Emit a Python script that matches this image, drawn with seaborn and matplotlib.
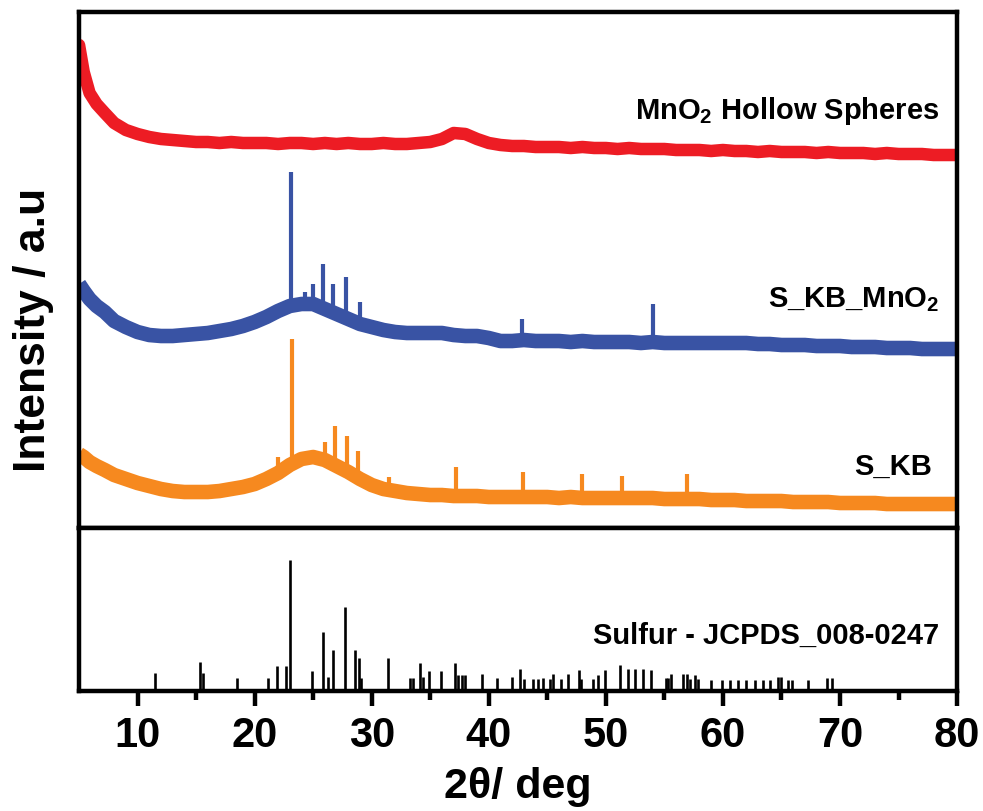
import numpy as np
import matplotlib
matplotlib.use('Agg')
import matplotlib.pyplot as plt
import seaborn as sns

# 2theta grid for the smoothed traces (deg)
two_theta = [5, 5.4, 5.9, 6.5, 7.2] + list(range(8, 81))

# band centre of each pattern, stacked, in a.u.
mno2_hs = [483, 456, 435, 424, 415,
           405, 398, 394, 391, 389, 388, 387, 386, 386, 385, 386, 385, 385, 385, 384,
           385, 385, 384, 385, 384, 385, 384, 384, 385, 384, 384, 385, 386, 389, 395,
           394, 389, 385, 383, 382, 382, 381, 381, 381, 380, 381, 380, 380, 379, 380,
           379, 379, 379, 378, 378, 378, 377, 378, 377, 377, 376, 377, 376, 376, 376,
           375, 376, 375, 375, 375, 374, 375, 374, 374, 374, 373, 373, 373]
s_kb_mno2 = [244, 237, 229, 222, 216,
             207, 201, 196, 193, 192, 192, 193, 194, 195, 197, 199, 202, 206, 211, 217,
             222, 224, 224, 219, 214, 209, 204, 201, 198, 196, 195, 195, 195, 195, 193,
             192, 192, 190, 187, 187, 188, 187, 187, 187, 186, 187, 186, 186, 186, 186,
             185, 186, 185, 185, 185, 185, 185, 185, 185, 185, 184, 184, 183, 183, 183,
             182, 182, 182, 181, 181, 181, 180, 180, 180, 179, 179, 179, 179]
s_kb = [74, 71, 66, 62, 58,
        53, 49, 45, 42, 39, 37, 36, 36, 36, 37, 39, 41, 44, 49, 55,
        63, 69, 71, 68, 62, 56, 49, 43, 39, 37, 35, 34, 33, 33, 32,
        32, 32, 31, 31, 31, 31, 31, 31, 30, 31, 30, 30, 30, 30, 30,
        30, 30, 29, 29, 29, 29, 28, 28, 28, 27, 27, 27, 27, 26, 26,
        26, 26, 25, 25, 25, 25, 24, 24, 24, 24, 24, 24, 24]

# sharp reflections on top of the bands: position, foot, top
blue_pk_pos = [23.1, 24.3, 25.0, 25.8, 26.7, 27.8, 29.0, 42.8, 54.0]
blue_pk_foot = [222, 224, 224, 222, 216, 210, 204, 187, 186]
blue_pk_top = [356, 236, 244, 264, 244, 251, 226, 209, 224]
orange_pk_pos = [22.0, 23.2, 26.0, 26.9, 27.9, 28.8, 31.5, 37.2, 42.9, 48.0, 51.4, 56.9]
orange_pk_foot = [55, 63, 68, 63, 56, 50, 39, 32, 31, 30, 30, 29]
orange_pk_top = [71, 189, 86, 102, 92, 77, 51, 61, 56, 54, 52, 54]

# reference card, sulfur JCPDS 008-0247 (relative intensity %)
ref_pos = [11.5, 15.3, 15.6, 18.5, 21.1, 21.9, 22.7, 23.0, 24.9, 25.8, 26.3, 26.7,
           27.7, 28.6, 28.9, 29.1, 31.4, 33.3, 33.5, 34.1, 34.4, 34.9, 35.9, 37.1,
           37.4, 37.7, 38.0, 39.4, 40.7, 42.0, 42.7, 43.0, 43.8, 44.2, 44.6, 45.2,
           45.5, 46.2, 46.8, 47.7, 47.9, 48.9, 49.3, 49.9, 51.2, 51.9, 52.5, 53.2,
           53.9, 55.1, 55.3, 55.6, 56.6, 56.9, 57.2, 57.6, 57.9, 59.0, 59.9, 60.6,
           61.3, 62.0, 62.7, 63.4, 64.0, 64.7, 65.0, 65.6, 65.9, 67.3, 68.9, 69.3]
ref_int = [14, 22, 14, 10, 10, 19, 19, 100, 15, 45, 11, 31,
           64, 31, 25, 10, 25, 10, 10, 21, 11, 15, 15, 21,
           12, 12, 12, 13, 10, 11, 17, 9, 9, 9, 10, 9,
           13, 9, 13, 16, 9, 9, 12, 16, 20, 17, 17, 17,
           16, 10, 10, 13, 13, 13, 9, 12, 9, 8, 8, 8,
           8, 8, 8, 8, 8, 11, 11, 8, 8, 8, 10, 10]

red = '#ED1C24'
blue = '#3953A4'
orange = '#F6891F'

sns.set_style('white')
plt.rcParams['font.family'] = ['Liberation Sans', 'DejaVu Sans']
plt.rcParams['font.weight'] = 'bold'
plt.rcParams['mathtext.default'] = 'regular'
plt.rcParams['text.color'] = 'black'
plt.rcParams['axes.labelcolor'] = 'black'
plt.rcParams['xtick.color'] = 'black'

fig = plt.figure(figsize=(9.83, 8.12), dpi=100)
ax = fig.add_axes([0.0804, 0.3485, 0.8932, 0.6355])
ax2 = fig.add_axes([0.0804, 0.1478, 0.8932, 0.2007])

sns.lineplot(x=two_theta, y=mno2_hs, color=red, linewidth=9, ax=ax,
             solid_joinstyle='round', solid_capstyle='round')
sns.lineplot(x=two_theta, y=s_kb_mno2, color=blue, linewidth=10.5, ax=ax,
             solid_joinstyle='round', solid_capstyle='butt')
sns.lineplot(x=two_theta, y=s_kb, color=orange, linewidth=10.5, ax=ax,
             solid_joinstyle='round', solid_capstyle='butt')
ax.vlines(blue_pk_pos, blue_pk_foot, blue_pk_top, color=blue, linewidth=3)
ax.vlines(orange_pk_pos, orange_pk_foot, orange_pk_top, color=orange, linewidth=3)

lab = dict(fontsize=21, fontweight='bold', ha='right', va='baseline', color='black')
ax.text(78.5, 410, 'MnO$_2$ Hollow Spheres', **lab)
ax.text(78.5, 222, 'S_KB_MnO$_2$', **lab)
ax.text(77.9, 54, 'S_KB', **lab)

ax2.vlines(ref_pos, 0, ref_int, color='black', linewidth=1.9)
ax2.text(78.5, 37, 'Sulfur - JCPDS_008-0247', **lab)

ax.set_xlim(5, 80)
ax.set_ylim(0, 516)
ax2.set_xlim(5, 80)
ax2.set_ylim(0, 124)

for a in (ax, ax2):
    a.set_yticks([])
    for sp in a.spines.values():
        sp.set_linewidth(3.2)
        sp.set_color('black')
ax.set_xticks([])

ax2.set_xticks(range(10, 81, 10))
ax2.set_xticks(range(15, 80, 10), minor=True)
ax2.tick_params(axis='x', which='major', direction='out', length=11, width=3.2,
                pad=6, labelsize=30, bottom=True, colors='black')
ax2.tick_params(axis='x', which='minor', direction='out', length=6.5, width=3.2,
                bottom=True, colors='black')
for t in ax2.get_xticklabels():
    t.set_fontweight('bold')
ax2.set_xlabel('2θ/ deg', fontsize=31, fontweight='bold', labelpad=8, color='black')

fig.text(0.034, 0.594, 'Intensity / a.u', rotation=90, ha='center', va='center',
         fontsize=32, fontweight='bold', color='black')

fig.savefig('out.png', dpi=100)
